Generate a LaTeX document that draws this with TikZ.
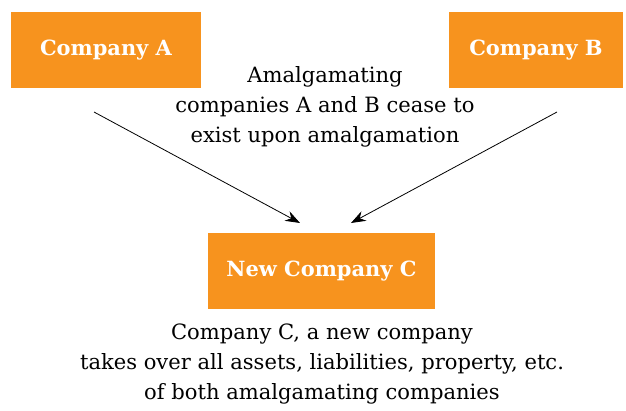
\documentclass[tikz,border=0pt]{standalone}
\usepackage{fontspec}
\setmainfont{DejaVu Serif}
\usetikzlibrary{arrows.meta, positioning}
\definecolor{boxorange}{HTML}{F7931E}
\tikzstyle{every picture} = [x=0.75pt, y=-0.75pt]
\tikzstyle{company} = [rectangle, fill=boxorange, text=white, inner sep=0pt,
  font=\bfseries\fontsize{15.7}{18}\selectfont, minimum height=57pt]
\tikzstyle{note} = [align=center, inner sep=0pt, font=\fontsize{15.8}{22.5}\selectfont]

\begin{document}
\begin{tikzpicture}
            \useasboundingbox (0,0) rectangle (626,411);
            \node (company a) [company, minimum width=142.5pt] at (106,50) {Company A};
            \node (company b) [company, minimum width=130.5pt] at (536,50) {Company B};
            \node (company c) [company, minimum width=170pt] at (321.5,271) {New Company C};
            \node (cease) [note] at (325,107) {Amalgamating\\companies A and B cease to\\exist upon amalgamation};
            \node (takeover) [note] at (322,364) {Company C, a new company\\takes over all assets, liabilities, property, etc.\\of both amalgamating companies};

            \coordinate (from a) at (94,112);
            \coordinate (from b) at (557,112);
            \coordinate (to a) at (300,223);
            \coordinate (to b) at (351,223);
            \draw[-{Stealth[length=11pt, width=8pt]}, line width=0.6pt] (from a) -- (to a);
            \draw[-{Stealth[length=11pt, width=8pt]}, line width=0.6pt] (from b) -- (to b);
        \end{tikzpicture}
\end{document}
